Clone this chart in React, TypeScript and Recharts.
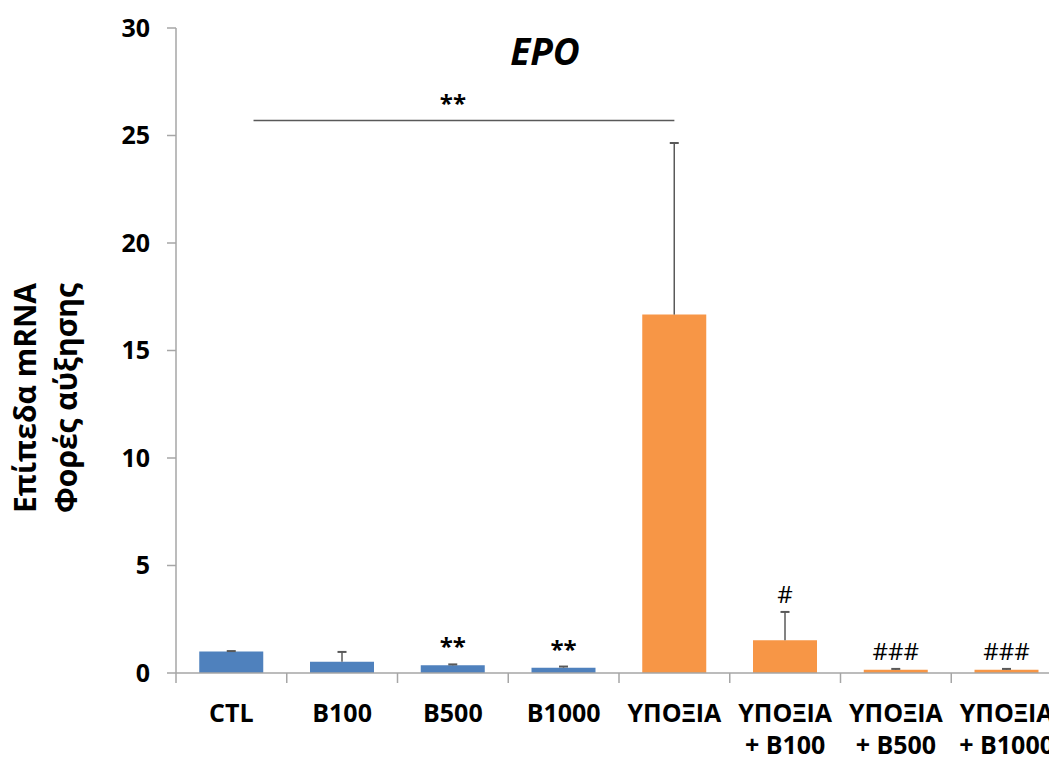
import {
  ComposedChart,
  Bar,
  Cell,
  XAxis,
  YAxis,
  LabelList,
  ReferenceLine,
} from "recharts";

const groups = [
  "CTL",
  "B100",
  "B500",
  "B1000",
  "ΥΠΟΞΙΑ",
  "ΥΠΟΞΙΑ\n+ B100",
  "ΥΠΟΞΙΑ\n+ B500",
  "ΥΠΟΞΙΑ\n+ B1000",
];
const means = [1.0, 0.52, 0.36, 0.25, 16.67, 1.52, 0.15, 0.15];
const errors = [0.02, 0.46, 0.04, 0.05, 7.98, 1.32, 0.04, 0.04];
const marks = ["", "", "**", "**", "", "#", "###", "###"];
const barColors = ["#4f81bd", "#4f81bd", "#4f81bd", "#4f81bd", "#f79646", "#f79646", "#f79646", "#f79646"];
const yTicks = [0, 5, 10, 15, 20, 25, 30];

// significance bracket between CTL and ΥΠΟΞΙΑ
const bracketY = 25.7;
const bracketFrom = "CTL";
const bracketTo = "ΥΠΟΞΙΑ";

const font = "'Open Sans', sans-serif";
const lineGray = "#a6a6a6";
const errGray = "#595959";

const data = groups.map((name, i) => ({
  name,
  value: means[i],
  errUp: errors[i],
  mark: marks[i],
}));

// category label (multi-line) plus the tick marks sitting between categories
const XTick = (props: any) => {
  const { x, y, payload, index, visibleTicksCount } = props;
  const half = payload?.offset ?? 55;
  const lines = String(payload.value).split("\n");
  return (
    <g>
      <line x1={x - half} x2={x - half} y1={y} y2={y + 10} stroke={lineGray} strokeWidth={1.5} />
      {index === visibleTicksCount - 1 && (
        <line x1={x + half} x2={x + half} y1={y} y2={y + 10} stroke={lineGray} strokeWidth={1.5} />
      )}
      <text x={x} y={y} textAnchor="middle" fontFamily={font} fontSize={25} fontWeight="bold" fill="#000">
        {lines.map((l, i) => (
          <tspan key={i} x={x} dy={i === 0 ? 49 : 32}>
            {l}
          </tspan>
        ))}
      </text>
    </g>
  );
};

const YLabel = () => (
  <text
    transform="translate(46, 398) rotate(-90)"
    textAnchor="middle"
    fontFamily={font}
    fontSize={30}
    fontWeight="bold"
    fill="#000"
  >
    <tspan x={0} dy={-10}>Επίπεδα mRNA</tspan>
    <tspan x={0} dy={41}>Φορές αύξησης</tspan>
  </text>
);

// one-sided (upper) error bar drawn as the stacked segment above each bar
const ErrShape = (props: any) => {
  const { x, y, width, height } = props;
  const cx = x + width / 2;
  return (
    <g>
      <line x1={cx} x2={cx} y1={y} y2={y + height} stroke={errGray} strokeWidth={1.5} />
      <line x1={cx - 4.5} x2={cx + 4.5} y1={y} y2={y} stroke={errGray} strokeWidth={2} />
    </g>
  );
};

const MarkLabel = (props: any) => {
  const { x, y, width, value } = props;
  if (!value) return null;
  const isStar = String(value).startsWith("*");
  return (
    <text
      x={x + width / 2}
      y={y - 9}
      textAnchor="middle"
      fontFamily={font}
      fontSize={24}
      fontWeight={isStar ? "bold" : "normal"}
      fill="#000"
    >
      {value}
    </text>
  );
};

const BracketShape = (props: any) => {
  const { x1, x2, y1 } = props;
  const band = (x2 - x1) / 4;
  return <line x1={x1 + 0.2 * band} x2={x2} y1={y1} y2={y1} stroke={errGray} strokeWidth={1.5} />;
};

export default function App() {
  return (
    <div
      style={{
        position: "absolute",
        left: 0,
        top: 0,
        width: 1049,
        height: 758,
        overflow: "hidden",
        background: "#fff",
      }}
    >
      <div
        style={{
          position: "absolute",
          left: 445,
          top: 32,
          width: 200,
          textAlign: "center",
          fontFamily: font,
          fontSize: 37,
          fontWeight: "bold",
          fontStyle: "italic",
          lineHeight: 1,
        }}
      >
        EPO
      </div>
      <ComposedChart
        width={1070}
        height={758}
        data={data}
        margin={{ top: 28, right: 8, bottom: 0, left: 0 }}
        barCategoryGap="21%"
      >
        <XAxis
          dataKey="name"
          height={85}
          interval={0}
          tickLine={false}
          tickSize={0}
          tickMargin={0}
          axisLine={{ stroke: lineGray, strokeWidth: 1.5 }}
          tick={<XTick />}
        />
        <YAxis
          domain={[0, 30]}
          ticks={yTicks}
          width={176}
          tickSize={9}
          tickMargin={17}
          axisLine={{ stroke: lineGray, strokeWidth: 1.5 }}
          tickLine={{ stroke: lineGray, strokeWidth: 1.5 }}
          tick={{ fontFamily: font, fontSize: 25, fontWeight: "bold", fill: "#000" }}
          label={<YLabel />}
        />
        <Bar dataKey="value" stackId="s" isAnimationActive={false}>
          {data.map((d, i) => (
            <Cell key={d.name} fill={barColors[i]} />
          ))}
        </Bar>
        <Bar dataKey="errUp" stackId="s" fill="none" shape={<ErrShape />} isAnimationActive={false}>
          <LabelList dataKey="mark" content={<MarkLabel />} />
        </Bar>
        <ReferenceLine
          segment={[
            { x: bracketFrom, y: bracketY },
            { x: bracketTo, y: bracketY },
          ]}
          stroke={errGray}
          strokeWidth={1.5}
          shape={<BracketShape />}
          label={{
            value: "**",
            position: "top",
            offset: 8,
            fontFamily: font,
            fontSize: 24,
            fontWeight: "bold",
            fill: "#000",
          }}
        />
      </ComposedChart>
    </div>
  );
}
